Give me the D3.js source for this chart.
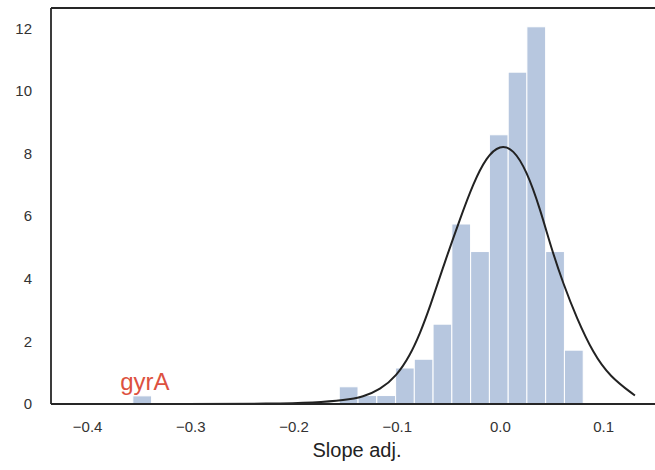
<!DOCTYPE html>
<html>
<head>
<meta charset="utf-8">
<script src="https://cdn.jsdelivr.net/npm/d3@7"></script>
<style>
  body { margin: 0; background: #fff; }
  .axis text { font-family: "Liberation Sans", Arial, sans-serif; font-size: 15px; fill: #333; }
</style>
</head>
<body>
<div class="container"></div>
<script>
// histogram bins (left edge, density)
const binWidth = 0.01818;
const binLefts = [-0.3557, -0.1557, -0.1375, -0.1193, -0.1011, -0.0830, -0.0648,
                  -0.0466, -0.0284, -0.0102, 0.0080, 0.0261, 0.0443, 0.0625];
const binHeights = [0.26, 0.55, 0.27, 0.27, 1.15, 1.43, 2.55,
                    5.75, 4.87, 8.6, 10.6, 12.05, 4.87, 1.72];

// fitted normal curve
const curveX = [-0.410, -0.300, -0.220, -0.180, -0.150, -0.1325, -0.1163, -0.1001, -0.0872,
                -0.0775, -0.0678, -0.0533, -0.0388, -0.0259, -0.0129, 0.0, 0.0129, 0.0259,
                0.0388, 0.0500, 0.0613, 0.0743, 0.0904, 0.1066, 0.1308];
const curveY = [0.0, 0.0, 0.01, 0.04, 0.12, 0.23, 0.45, 0.90, 1.55,
                2.25, 3.10, 4.55, 5.90, 7.05, 7.90, 8.28, 8.15, 7.45,
                6.25, 4.95, 3.85, 2.75, 1.62, 0.87, 0.27];

const xTicks = [-0.4, -0.3, -0.2, -0.1, 0.0, 0.1];
const yTicks = [0, 2, 4, 6, 8, 10, 12];
const annotation = {label: 'gyrA', x: -0.368, y: 0.45};

const W = 655, H = 470;
const margin = {top: 8, right: -8, bottom: 66, left: 51};
const width = W - margin.left - margin.right,
      height = H - margin.top - margin.bottom;

const svg = d3.select('.container')
  .append('svg')
  .attr('width', W)
  .attr('height', H);

const g = svg.append('g')
  .attr('transform', 'translate(' + margin.left + ',' + margin.top + ')');

const x = d3.scaleLinear().domain([-0.435, 0.158]).range([0, width]);
const y = d3.scaleLinear().domain([0, 12.65]).range([height, 0]);

const bins = binLefts.map((l, i) => ({x0: l, x1: l + binWidth, h: binHeights[i]}));

// bars
g.append('g')
  .selectAll('rect')
  .data(bins)
  .enter().append('rect')
    .attr('x', d => x(d.x0))
    .attr('y', d => y(d.h))
    .attr('width', d => x(d.x1) - x(d.x0))
    .attr('height', d => y(0) - y(d.h))
    .attr('fill', '#b7c7df')
    .attr('stroke', '#fff')
    .attr('stroke-width', 1);

// normal fit
const pts = curveX.map((v, i) => [v, curveY[i]]);
g.append('path')
  .datum(pts)
  .attr('fill', 'none')
  .attr('stroke', '#222')
  .attr('stroke-width', 2)
  .attr('d', d3.line().x(d => x(d[0])).y(d => y(d[1])).curve(d3.curveBasis));

// axes, no tick marks (seaborn white style)
const xAxis = d3.axisBottom(x).tickValues(xTicks).tickSize(0).tickPadding(17)
  .tickFormat(d => d3.format('.1f')(d).replace('-', '\u2212'));
const yAxis = d3.axisLeft(y).tickValues(yTicks).tickSize(0).tickPadding(19);

g.append('g')
  .classed('axis', true)
  .attr('transform', 'translate(0,' + height + ')')
  .call(xAxis)
  .call(s => s.select('.domain').remove());

g.append('g')
  .classed('axis', true)
  .call(yAxis)
  .call(s => s.select('.domain').remove());

// spines
const spine = '#262626';
g.append('line').attr('x1', 0).attr('x2', 0).attr('y1', 0).attr('y2', height)
  .attr('stroke', spine).attr('stroke-width', 1.8);
g.append('line').attr('x1', 0).attr('x2', width).attr('y1', 0).attr('y2', 0)
  .attr('stroke', spine).attr('stroke-width', 1.8);
g.append('line').attr('x1', 0).attr('x2', width).attr('y1', height).attr('y2', height)
  .attr('stroke', spine).attr('stroke-width', 1.8);

// annotation
g.append('text')
  .text(annotation.label)
  .attr('x', x(annotation.x))
  .attr('y', y(annotation.y))
  .style('font-family', '"Liberation Sans", Arial, sans-serif')
  .style('font-size', '24px')
  .style('fill', '#dd5140')
  .style('text-anchor', 'start');

// x label
svg.append('text')
  .text('Slope adj.')
  .attr('x', 357)
  .attr('y', 457)
  .style('font-family', '"Liberation Sans", Arial, sans-serif')
  .style('font-size', '20px')
  .style('fill', '#222')
  .style('text-anchor', 'middle');
</script>
</body>
</html>
